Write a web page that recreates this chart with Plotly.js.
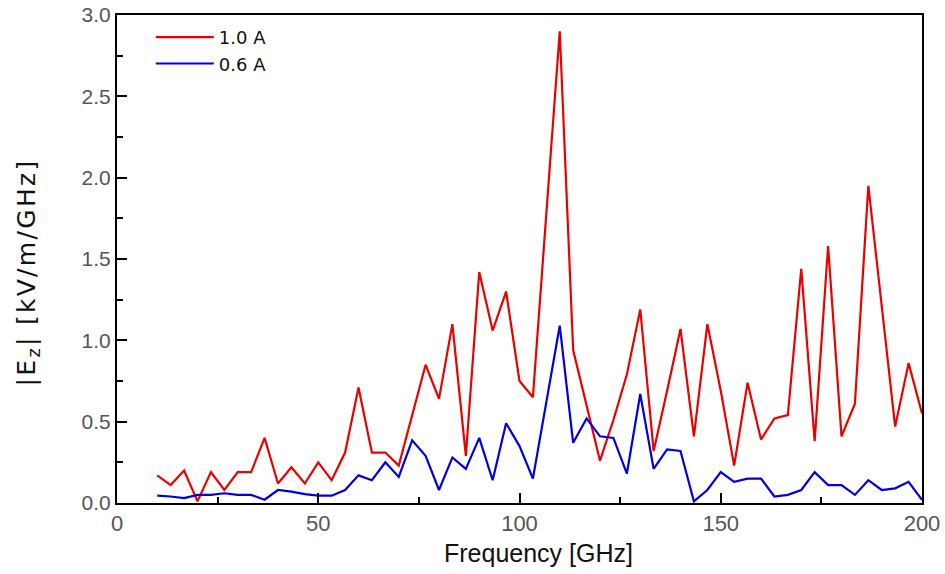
<!DOCTYPE html>
<html>
<head>
<meta charset="utf-8">
<script src="https://cdn.plot.ly/plotly-3.0.1.min.js"></script>
<style>
html,body{margin:0;padding:0;background:#fff;}
#chart{width:945px;height:574px;}
#chart .annotation-text.ytitle-ann{letter-spacing:2.3px;}
</style>
</head>
<body>
<div id="chart"></div>
<script>
var freq = [10, 13.33, 16.67, 20, 23.33, 26.67, 30, 33.33, 36.67, 40,
  43.33, 46.67, 50, 53.33, 56.67, 60, 63.33, 66.67, 70, 73.33,
  76.67, 80, 83.33, 86.67, 90, 93.33, 96.67, 100, 103.33, 106.67,
  110, 113.33, 116.67, 120, 123.33, 126.67, 130, 133.33, 136.67, 140,
  143.33, 146.67, 150, 153.33, 156.67, 160, 163.33, 166.67, 170, 173.33,
  176.67, 180, 183.33, 186.67, 190, 193.33, 196.67, 200];

var ez_1A = [0.17, 0.11, 0.20, 0.01, 0.19, 0.08, 0.19, 0.19, 0.40, 0.12,
  0.22, 0.12, 0.25, 0.14, 0.31, 0.71, 0.31, 0.31, 0.23, 0.54,
  0.85, 0.64, 1.10, 0.29, 1.42, 1.06, 1.30, 0.75, 0.65, 1.78,
  2.90, 0.94, 0.60, 0.26, 0.51, 0.79, 1.19, 0.32, 0.69, 1.07,
  0.41, 1.10, 0.69, 0.23, 0.74, 0.39, 0.52, 0.54, 1.44, 0.38,
  1.58, 0.41, 0.61, 1.95, 1.21, 0.47, 0.86, 0.55];

var ez_06A = [0.045, 0.04, 0.03, 0.05, 0.05, 0.06, 0.05, 0.05, 0.02, 0.08,
  0.07, 0.055, 0.045, 0.045, 0.08, 0.17, 0.14, 0.25, 0.16, 0.385,
  0.29, 0.08, 0.28, 0.21, 0.40, 0.14, 0.49, 0.35, 0.15, 0.62,
  1.09, 0.37, 0.52, 0.41, 0.40, 0.18, 0.67, 0.21, 0.33, 0.32,
  0.01, 0.08, 0.19, 0.13, 0.15, 0.15, 0.04, 0.05, 0.08, 0.19,
  0.11, 0.11, 0.05, 0.14, 0.08, 0.09, 0.13, 0.02];

var seriesNames = ['1.0 A', '0.6 A'];
var xTickVals = [0, 50, 100, 150, 200];
var yTickVals = [0.0, 0.5, 1.0, 1.5, 2.0, 2.5, 3.0];
var xTitle = 'Frequency [GHz]';
var yTitle = '|E<sub>z</sub>| [kV/m/GHz]';

var traces = [
  {x: freq, y: ez_1A, name: seriesNames[0], mode: 'lines', type: 'scatter',
   line: {color: 'rgb(235,0,0)', width: 2.2}},
  {x: freq, y: ez_06A, name: seriesNames[1], mode: 'lines', type: 'scatter',
   line: {color: 'rgb(0,0,225)', width: 2.2}}
];

var fontFam = 'Liberation Sans, Arial, sans-serif';
var wideFam = 'DejaVu Sans, Verdana, sans-serif';

var layout = {
  width: 945, height: 574,
  margin: {l: 117, r: 23, t: 15, b: 71},
  paper_bgcolor: '#fff', plot_bgcolor: '#fff',
  font: {family: fontFam, color: '#222'},
  showlegend: true,
  legend: {x: 0.042, y: 0.992, xanchor: 'left', yanchor: 'top', bgcolor: 'rgba(0,0,0,0)',
           font: {size: 18, color: '#111', family: wideFam}, itemwidth: 58,
           tracegroupgap: 0},
  xaxis: {
    range: [0, 200], tickvals: xTickVals, ticktext: xTickVals.map(String),
    ticks: 'inside', ticklen: 10, tickwidth: 2, tickcolor: '#000',
    minor: {dtick: 25, ticks: 'inside', ticklen: 6, tickwidth: 2, tickcolor: '#000', showgrid: false},
    showline: true, linecolor: '#000', linewidth: 2, mirror: true,
    showgrid: false, zeroline: false,
    tickfont: {size: 22, color: '#555', family: fontFam}
  },
  yaxis: {
    range: [0, 3], tickvals: yTickVals, ticktext: yTickVals.map(function(v){return v.toFixed(1);}),
    ticks: 'inside', ticklen: 10, tickwidth: 2, tickcolor: '#000',
    minor: {dtick: 0.25, ticks: 'inside', ticklen: 6, tickwidth: 2, tickcolor: '#000', showgrid: false},
    showline: true, linecolor: '#000', linewidth: 2, mirror: true,
    showgrid: false, zeroline: false,
    tickfont: {size: 21, color: '#555', family: fontFam}
  },
  annotations: [
    {text: xTitle, xref: 'paper', yref: 'paper', x: 0.524, y: -0.1025,
     xanchor: 'center', yanchor: 'middle', showarrow: false,
     font: {size: 25, color: '#111', family: fontFam}},
    {text: yTitle, xref: 'paper', yref: 'paper', x: -0.1106, y: 0.473,
     xanchor: 'center', yanchor: 'middle', showarrow: false, textangle: -90,
     font: {size: 25, color: '#111', family: wideFam}}
  ]
};

Plotly.newPlot('chart', traces, layout, {displayModeBar: false, staticPlot: true}).then(function(){
  var anns = document.querySelectorAll('#chart .annotation-text');
  if (anns.length > 1) { anns[1].classList.add('ytitle-ann'); }
});
</script>
</body>
</html>
